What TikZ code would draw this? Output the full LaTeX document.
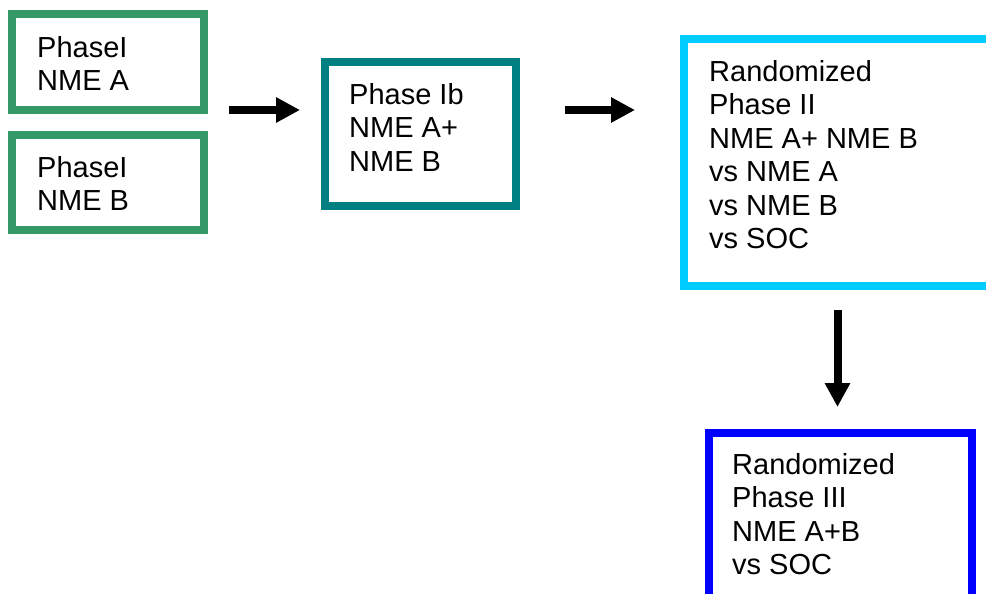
\documentclass[tikz,border=0pt]{standalone}
\usepackage{fontspec}
\setmainfont{Liberation Sans}
\usetikzlibrary{arrows.meta,positioning}

\definecolor{phgreen}{HTML}{339966}
\definecolor{phteal}{HTML}{008080}
\definecolor{phcyan}{HTML}{00CCFF}
\definecolor{phblue}{HTML}{0000FF}

\tikzset{
  phasebox/.style={draw=#1,line width=8pt,inner sep=0pt,outer sep=0pt,anchor=north west},
  boxtext/.style={anchor=north west,inner sep=0pt,align=left,font=\fontsize{29}{33.5}\selectfont},
  flow/.style={line width=8pt,-{Triangle[length=24pt,width=24pt]}}
}

\begin{document}
\begin{tikzpicture}[x=1pt,y=-1pt]

  % page frame
  \clip (0,0) rectangle (986,594);
  \fill[white] (0,0) rectangle (986,594);

  % single agent phase I
  \node[phasebox=phgreen,minimum width=192pt,minimum height=96pt] (nmeA) at (12,14) {};
  \node[boxtext] (nmeAtxt) at ([shift={(25,22)}]nmeA.north west) {PhaseI\\NME A};
  \node[phasebox=phgreen,minimum width=192pt,minimum height=95pt] (nmeB) at (12,135) {};
  \node[boxtext] (nmeBtxt) at ([shift={(25,21)}]nmeB.north west) {PhaseI\\NME B};

  % combination phase Ib
  \node[phasebox=phteal,minimum width=191pt,minimum height=144pt] (combo) at (325,62) {};
  \node[boxtext] (combotxt) at ([shift={(24,21)}]combo.north west) {Phase Ib\\NME A+\\NME B};

  % randomized phase II
  \node[phasebox=phcyan,minimum width=330pt,minimum height=247pt] (randII) at (684,39) {};
  \node[boxtext] (randIItxt) at ([shift={(25,21)}]randII.north west)
    {Randomized\\Phase II\\NME A+ NME B\\vs NME A\\vs NME B\\vs SOC};

  % randomized phase III
  \node[phasebox=phblue,minimum width=263pt,minimum height=220pt] (randIII) at (709,433) {};
  \node[boxtext] (randIIItxt) at ([shift={(23,20)}]randIII.north west)
    {Randomized\\Phase III\\NME A+B\\vs SOC};

  % arrows between phases
  \draw[flow] ([xshift=25pt]nmeA.south east) -- ([xshift=-25pt]nmeA.south east -| combo.west);
  \draw[flow] ([xshift=49pt]combo.east |- nmeA.south) -- ([xshift=-49pt]randII.west |- nmeA.south);
  \draw[flow] ([xshift=-3pt,yshift=-24pt]randII.south -| randIII.north) -- ([xshift=-3pt,yshift=26pt]randIII.north);

\end{tikzpicture}
\end{document}
